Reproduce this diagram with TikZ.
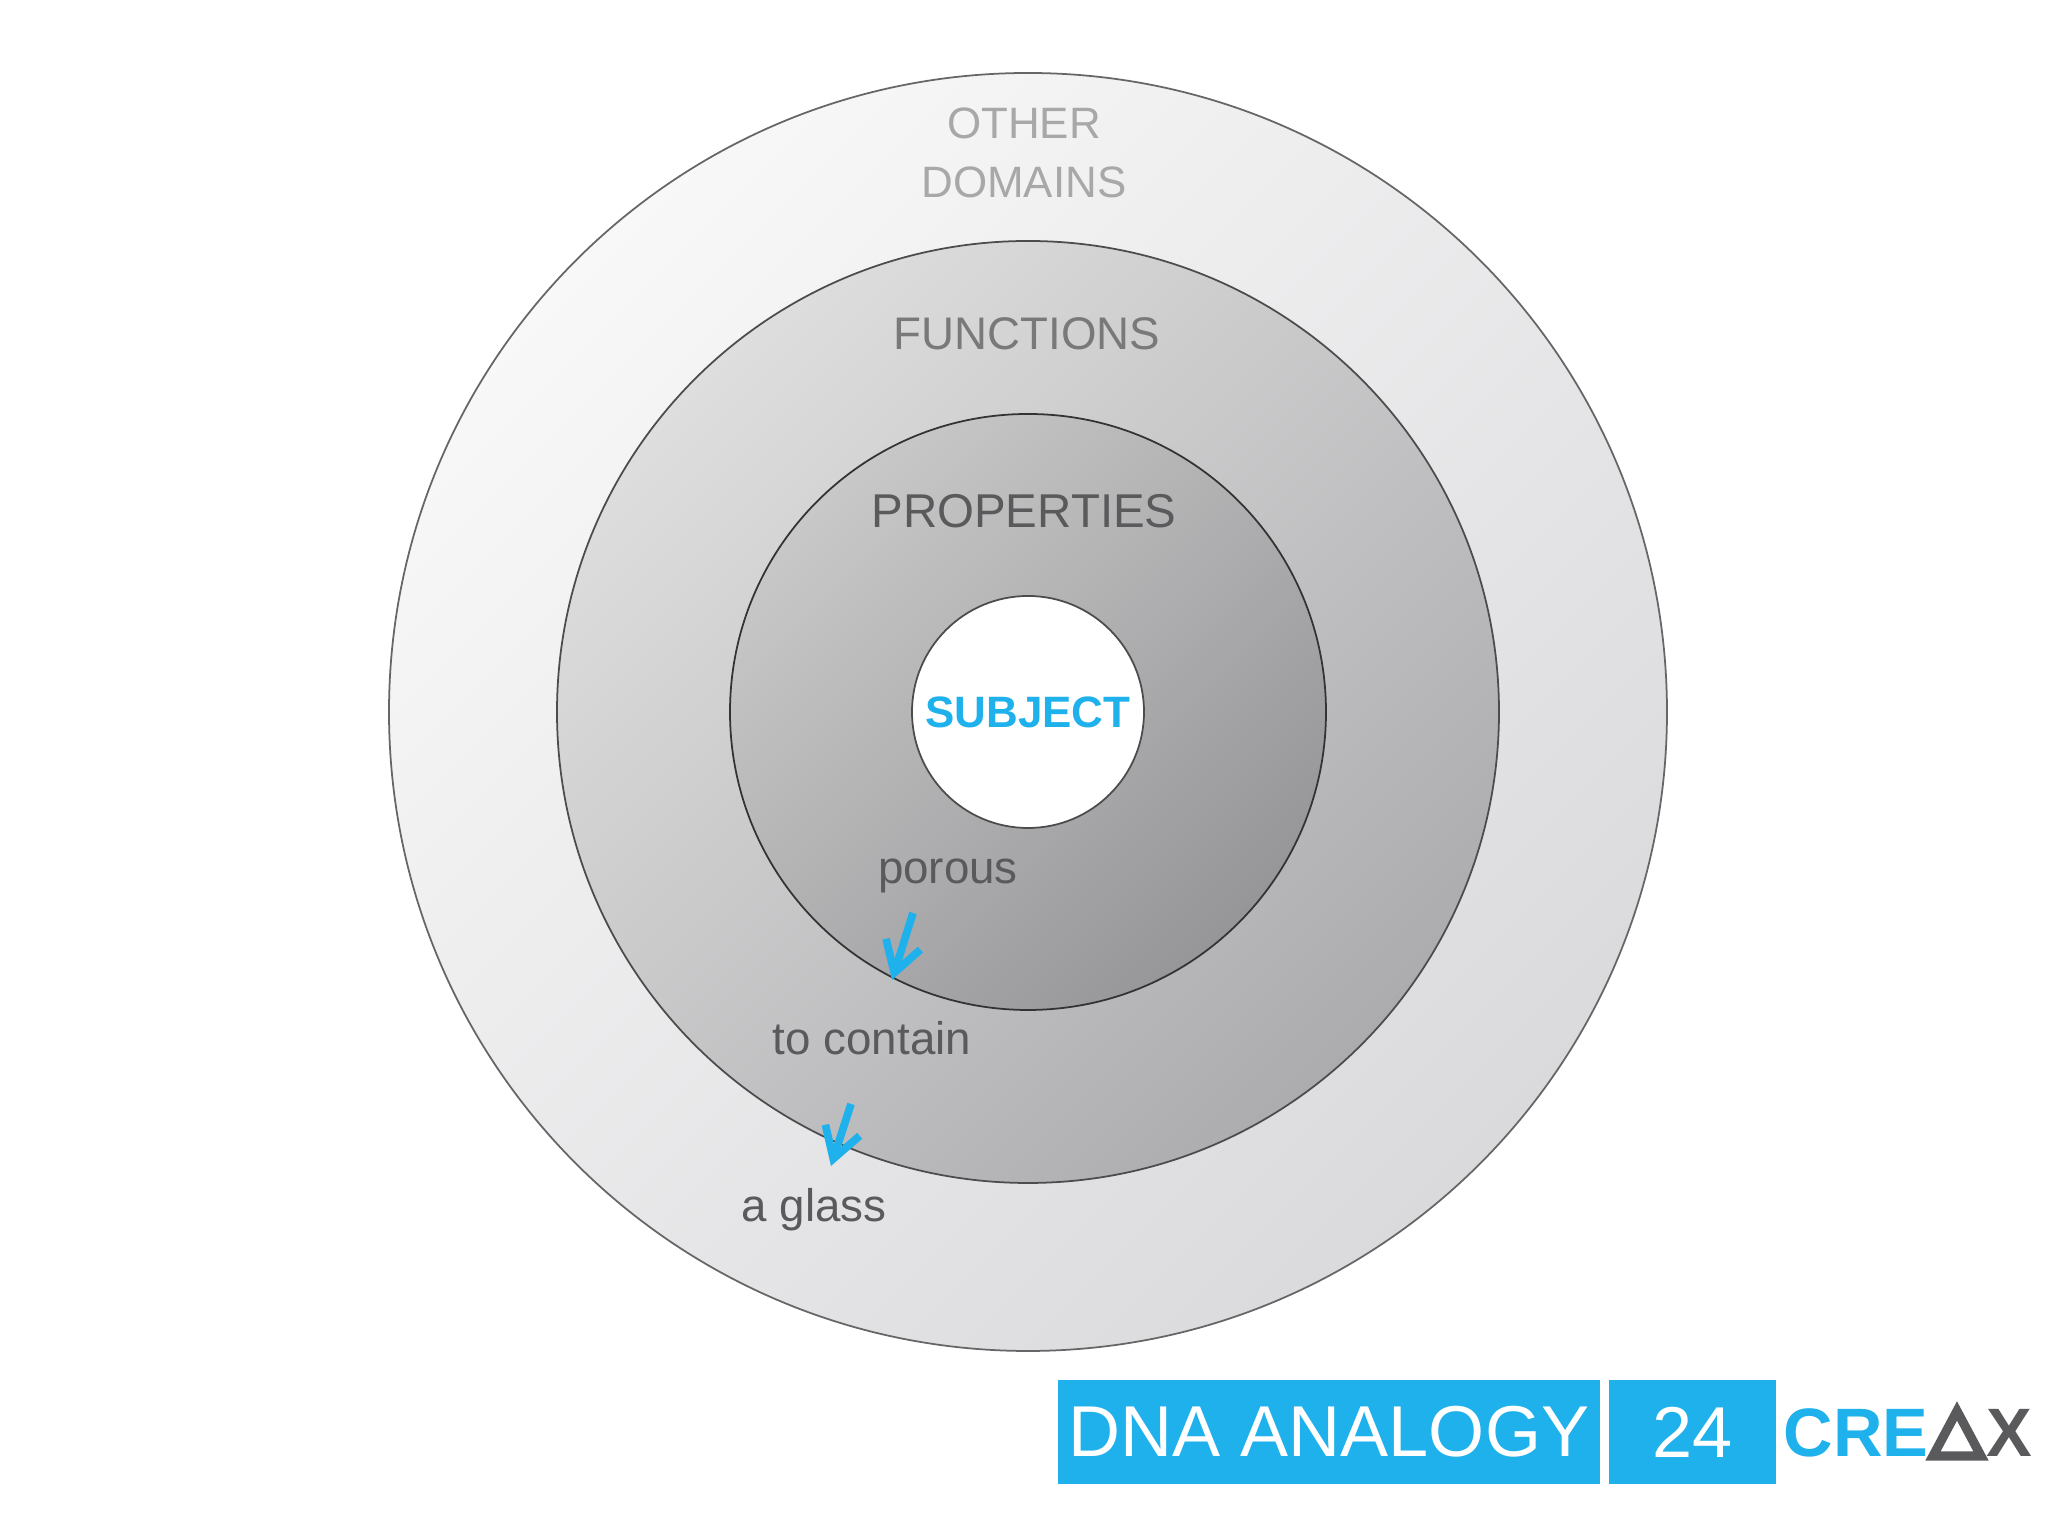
\documentclass[tikz,border=0pt]{standalone}
\usepackage{fontspec}
\setmainfont{Liberation Sans}
\usetikzlibrary{arrows.meta}
\definecolor{cblue}{HTML}{1EB1EC}
\definecolor{tgray}{HTML}{5A5A5C}
\definecolor{lgray}{HTML}{A8A8A8}
\tikzset{
  ring/.style={draw=#1, line width=0.5pt},
  lbl/.style={font=\fontsize{13}{15}\selectfont, text=tgray, align=center},
  barrow/.style={draw=cblue, line width=2.2pt, -{Straight Barb[length=3mm,width=3.6mm,line width=2.2pt]}},
  band/.style={fill=cblue, text=white, font=\fontsize{20.5}{24}\selectfont, inner sep=0pt}
}
\begin{document}
\begin{tikzpicture}
\useasboundingbox (0,0) rectangle (20.48,15.36);
\coordinate (c) at (10.28,8.24);
\shade[ring=gray!80!black, top color={rgb,255:red,248;green,248;blue,248}, bottom color={rgb,255:red,218;green,217;blue,220}, shading angle=45] (c) circle (6.39);
\shade[ring=black!70, top color={rgb,255:red,222;green,222;blue,222}, bottom color={rgb,255:red,172;green,171;blue,174}, shading angle=45] (c) circle (4.71);
\shade[ring=black!80, top color={rgb,255:red,200;green,200;blue,200}, bottom color={rgb,255:red,150;green,149;blue,152}, shading angle=45] (c) circle (2.98);
\draw[ring=black!70, fill=white] (c) circle (1.16);
\node[lbl, text=lgray, font=\fontsize{12.5}{17}\selectfont] (od) at (10.24,13.83) {OTHER\\DOMAINS};
\node[lbl, text=gray!95!black] (fn) at (10.27,12.02) {FUNCTIONS};
\node[lbl, font=\fontsize{13.5}{15}\selectfont] (pr) at (10.24,10.25) {PROPERTIES};
\node[font=\bfseries\fontsize{12.5}{15}\selectfont, text=cblue] (sub) at (c) {SUBJECT};
\node[lbl] (por) at (9.48,6.60) {porous};
\node[lbl] (tc) at (8.72,4.98) {to contain};
\node[lbl] (ag) at (8.14,3.26) {a glass};
\coordinate (a1s) at (9.13,6.23);
\coordinate (a1e) at (8.92,5.56);
\coordinate (a2s) at (8.51,4.32);
\coordinate (a2e) at (8.31,3.70);
\draw[barrow] (a1s) -- (a1e);
\draw[barrow] (a2s) -- (a2e);
\node[band, minimum width=5.42cm, minimum height=1.04cm] (dna) at (13.29,1.04) {DNA ANALOGY};
\node[band, minimum width=1.67cm, minimum height=1.04cm] (num) at (16.925,1.04) {24};
\node[font=\bfseries\fontsize{19.5}{24}\selectfont, text=cblue, anchor=east, inner sep=0pt] (cre) at (19.29,1.03) {CRE};
\draw[tgray, line width=2.6pt, line join=miter] (19.57,1.25) -- (19.33,0.80) -- (19.81,0.80) -- cycle;
\node[font=\bfseries\fontsize{19.5}{24}\selectfont, text=tgray, anchor=west, inner sep=0pt] (x) at (19.86,1.03) {X};
\end{tikzpicture}
\end{document}
